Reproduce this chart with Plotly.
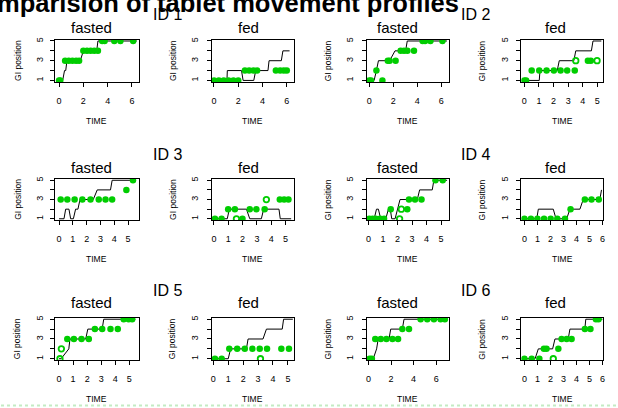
import plotly.graph_objects as go

# ---------------- data: (TIME, GI position) ----------------
id1_fasted_line = [(0,1),(0.3,1),(0.45,2),(0.55,2),(0.65,3),(1.75,3),(2.0,4),(3.1,4),(3.2,5),(6.4,5)]
id1_fasted_dots = [(0,1),(0.1,1),(0.5,3),(0.8,3),(1.1,3),(1.4,3),(1.65,3),(2.0,4),(2.3,4),(2.6,4),(2.9,4),(3.2,4),
                   (3.55,5),(3.75,5),(4.55,5),(5.05,5),(6.1,5)]
id1_fasted_open = []

id1_fed_line = [(0,1),(1.07,1),(1.1,2),(2.27,2),(2.4,1),(3.28,1),(3.44,2),(4.45,2),(4.54,3),(5.55,3),(5.68,4),(6.23,4)]
id1_fed_dots = [(0,1),(0.4,1),(0.8,1),(1.2,1),(1.6,1),(2.0,1),(2.55,2),(2.9,2),(3.25,2),(3.55,2),
                (5.1,2),(5.45,2),(5.75,2),(6.0,2)]
id1_fed_open = []

id2_fasted_line = [(0,1),(0.41,1),(0.6,2),(0.77,3),(1.7,3),(2.15,4),(3.03,4),(3.17,5),(6.47,5)]
id2_fasted_dots = [(0,1),(0.15,1),(0.6,2),(1.1,1),(1.55,3),(1.7,3),(2.2,3),(2.62,4),(2.9,4),(3.18,4),(3.73,4),
                   (4.45,5),(4.65,5),(5.1,5),(6.1,5)]
id2_fasted_open = []

id2_fed_line = [(0,1),(1.02,1),(1.07,2),(2.25,2),(2.39,3),(3.39,3),(3.52,4),(4.59,4),(4.7,5),(5.27,5)]
id2_fed_dots = [(0,1),(0.12,1),(0.5,2),(1.02,2),(1.52,2),(2.02,2),(2.48,2),(2.93,2),(3.45,2),(4.35,3),(4.55,3)]
id2_fed_open = [(3.52,3),(4.98,3)]

id3_fasted_line = [(0,1),(0.36,1),(0.48,2),(0.72,2),(0.84,1),(1.04,1),(1.2,2),(1.37,2),(1.52,3),(2.48,3),
                   (2.77,4),(3.73,4),(3.85,5),(5.4,5)]
id3_fasted_dots = [(0.12,3),(0.6,3),(1.13,3),(1.69,3),(2.28,3),(2.88,3),(3.37,3),(3.85,3),(4.88,4),(5.36,5)]
id3_fasted_open = []

id3_fed_line = [(0,1),(0.93,1),(1.07,2),(2.27,2),(2.5,1),(3.31,1),(3.47,2),(4.54,2),(4.63,1),(5.39,1)]
id3_fed_dots = [(0.07,1),(0.53,1),(0.99,2),(1.46,2),(1.99,1),(2.5,2),(2.96,2),(3.54,2),(4.6,3),(4.9,3),(5.2,3)]
id3_fed_open = [(1.57,1),(3.66,3)]

id4_fasted_line = [(0,1),(0.39,1),(0.55,2),(0.68,2),(0.84,1),(1.19,1),(1.37,2),(1.5,2),(1.6,1),(1.83,1),
                   (2.17,3),(3.36,3),(3.52,4),(4.39,4),(4.5,5),(5.41,5)]
id4_fasted_dots = [(0.05,1),(0.28,1),(0.5,1),(0.8,1),(1.07,1),(1.53,2),(2.67,2),(2.79,3),(3.2,3),(3.65,3),
                   (4.61,5),(5.11,5)]
id4_fasted_open = [(2.14,1),(2.26,2)]

id4_fed_line = [(0,1),(0.95,1),(1.07,2),(2.22,2),(2.43,1),(3.25,1),(3.5,2),(4.27,2),(4.52,3),(5.8,3),(5.93,4)]
id4_fed_dots = [(0,1),(0.5,1),(1.0,1),(1.51,1),(2.02,1),(2.53,1),(3.12,1),(3.55,2),(4.65,3),(5.16,3),(5.72,3)]
id4_fed_open = []

id5_fasted_line = [(0,1),(0.15,1),(0.7,2),(0.78,3),(1.9,3),(2.05,4),(3.07,4),(3.18,5),(5.43,5)]
id5_fasted_dots = [(0.59,3),(1.06,3),(1.6,3),(2.12,3),(2.55,4),(3.07,4),(3.66,4),(4.18,4),(4.6,5),(4.95,5),(5.2,5)]
id5_fasted_open = [(0.07,1),(0.17,2)]

id5_fed_line = [(0,1),(1.0,1),(1.16,2),(2.22,2),(2.33,3),(3.33,3),(3.56,4),(4.62,4),(4.71,5),(5.33,5)]
id5_fed_dots = [(0.11,1),(0.56,1),(1.07,2),(1.6,2),(2.11,2),(2.62,2),(3.11,2),(3.6,2),(4.56,2),(5.07,2)]
id5_fed_open = [(3.16,1)]

id6_fasted_line = [(0,1),(0.42,1),(0.72,2),(0.86,3),(1.82,3),(1.97,4),(3.0,4),(3.15,5),(6.97,5)]
id6_fasted_dots = [(0.1,1),(0.3,1),(0.6,3),(1.09,3),(1.59,3),(2.12,3),(2.62,3),(3.0,4),(3.59,4),
                   (4.62,5),(5.21,5),(5.8,5),(6.39,5),(6.77,5)]
id6_fasted_open = []

id6_fed_line = [(0,1),(0.82,1),(1.07,2),(2.17,2),(2.35,3),(3.37,3),(3.5,4),(4.65,4),(4.72,5),(6.0,5)]
id6_fed_dots = [(0,1),(0.56,1),(1.15,1),(1.5,2),(1.7,2),(2.61,2),(2.86,3),(3.25,3),(3.63,3),(4.65,4),(5.08,4),
                (5.5,5),(5.7,5)]
id6_fed_open = [(2.22,1)]

panel_titles = ["fasted", "fed", "fasted", "fed"] * 3
id_labels = ["ID 1", "ID 2", "ID 3", "ID 4", "ID 5", "ID 6"]
y_tick_vals = [1, 2, 3, 4, 5]
y_tick_text = ["1", "", "3", "", "5"]

panels = [
    (id1_fasted_line, id1_fasted_dots, id1_fasted_open), (id1_fed_line, id1_fed_dots, id1_fed_open),
    (id2_fasted_line, id2_fasted_dots, id2_fasted_open), (id2_fed_line, id2_fed_dots, id2_fed_open),
    (id3_fasted_line, id3_fasted_dots, id3_fasted_open), (id3_fed_line, id3_fed_dots, id3_fed_open),
    (id4_fasted_line, id4_fasted_dots, id4_fasted_open), (id4_fed_line, id4_fed_dots, id4_fed_open),
    (id5_fasted_line, id5_fasted_dots, id5_fasted_open), (id5_fed_line, id5_fed_dots, id5_fed_open),
    (id6_fasted_line, id6_fasted_dots, id6_fasted_open), (id6_fed_line, id6_fed_dots, id6_fed_open),
]

# ---------------- layout (pixels) ----------------
W, H = 618, 408
COL_X = [(54.3, 138.3), (211.7, 294.0), (367.7, 450.0), (522.7, 605.0)]
ROW_Y = [(37.7, 80.3), (177.7, 219.3), (317.3, 360.0)]
X_RANGES = [(-0.33, 6.55), (-0.19, 6.56), (-0.19, 6.63), (-0.22, 5.39),
            (-0.29, 5.77), (-0.16, 5.56), (-0.11, 5.53), (-0.25, 6.05),
            (-0.28, 5.66), (-0.11, 5.38), (-0.14, 7.12), (-0.25, 6.05)]
X_DTICK = [2, 2, 2, 1, 1, 1, 1, 1, 1, 1, 2, 1]
TITLE_X = [90.7, 248.5, 398.5, 557.5]
TITLE_Y = [26, 166, 301.5]
ID_X = [167, 477]
ID_Y = [12.5, 153, 290]

FONT = "Liberation Sans, Arial, sans-serif"
GREEN = "#00CD00"

def px_x(x):
    return x / W

def px_y(y):
    return 1 - y / H

fig = go.Figure()
layout = dict(
    width=W, height=H, margin=dict(l=0, r=0, t=0, b=0),
    paper_bgcolor="white", plot_bgcolor="white", showlegend=False,
    font=dict(family=FONT, color="black"),
)
annotations = []

for i, (line, dots, opens) in enumerate(panels):
    r, c = divmod(i, 4)
    n = "" if i == 0 else str(i + 1)
    xa, ya = "x" + n, "y" + n
    fig.add_trace(go.Scatter(x=[p[0] for p in line], y=[p[1] for p in line], mode="lines",
                             line=dict(color="black", width=1), xaxis=xa, yaxis=ya, hoverinfo="skip"))
    fig.add_trace(go.Scatter(x=[p[0] for p in dots], y=[p[1] for p in dots], mode="markers",
                             marker=dict(color=GREEN, size=6.5, line=dict(width=0)), xaxis=xa, yaxis=ya))
    if opens:
        fig.add_trace(go.Scatter(x=[p[0] for p in opens], y=[p[1] for p in opens], mode="markers",
                                 marker=dict(color=GREEN, size=5.5, symbol="circle-open", line=dict(width=1.8)),
                                 xaxis=xa, yaxis=ya))
    x0, x1 = COL_X[c]
    y0, y1 = ROW_Y[r]
    common = dict(showline=True, linecolor="black", linewidth=1, mirror=True, ticks="outside",
                  ticklen=4, tickwidth=1, tickcolor="black", showgrid=False, zeroline=False,
                  tickfont=dict(size=9, family=FONT, color="black"))
    layout["xaxis" + n] = dict(common, domain=[px_x(x0), px_x(x1)], range=list(X_RANGES[i]),
                               anchor=ya, tick0=0, dtick=X_DTICK[i], ticklabelstandoff=6)
    layout["yaxis" + n] = dict(common, domain=[px_y(y1), px_y(y0)], range=[0.85, 5.15],
                               anchor=xa, tickvals=y_tick_vals, ticktext=y_tick_text, tickangle=-90,
                               ticklabelstandoff=3 if c == 0 else 5)
    annotations.append(dict(text=panel_titles[i], x=px_x(TITLE_X[c]), y=px_y(TITLE_Y[r]), xref="paper",
                            yref="paper", showarrow=False, xanchor="center", yanchor="middle",
                            font=dict(size=15, family=FONT)))
    annotations.append(dict(text="TIME", x=px_x((x0 + x1) / 2), y=px_y(y1 + 39), xref="paper", yref="paper",
                            showarrow=False, xanchor="center", yanchor="middle", font=dict(size=8.5, family=FONT)))
    annotations.append(dict(text="GI position", x=px_x(x0 - (38 if c == 0 else 39.5)), y=px_y((y0 + y1) / 2),
                            xref="paper", yref="paper", showarrow=False, textangle=-90,
                            xanchor="center", yanchor="middle", font=dict(size=8.5, family=FONT)))

for k, lab in enumerate(id_labels):
    r, side = divmod(k, 2)
    annotations.append(dict(text=lab, x=px_x(ID_X[side]), y=px_y(ID_Y[r]), xref="paper", yref="paper",
                            showarrow=False, xanchor="center", yanchor="middle", font=dict(size=16, family=FONT)))

# main title: cut off at the top and left edge in the reference
annotations.append(dict(text="<b>Comparision of tablet movement profiles</b>", x=px_x(462), y=px_y(16.7),
                        xref="paper", yref="paper", showarrow=False, xanchor="right", yanchor="bottom",
                        font=dict(size=25.5, family=FONT)))

layout["annotations"] = annotations
layout["shapes"] = [dict(type="line", xref="paper", yref="paper", x0=0, x1=1, y0=px_y(405.5), y1=px_y(405.5),
                         line=dict(color="#c4ebc4", width=2, dash="dot"))]
fig.update_layout(**layout)
fig.write_html("out.html", config={"displayModeBar": False, "staticPlot": True},
               post_script="document.body.style.margin='0px';document.body.style.overflow='hidden';")
